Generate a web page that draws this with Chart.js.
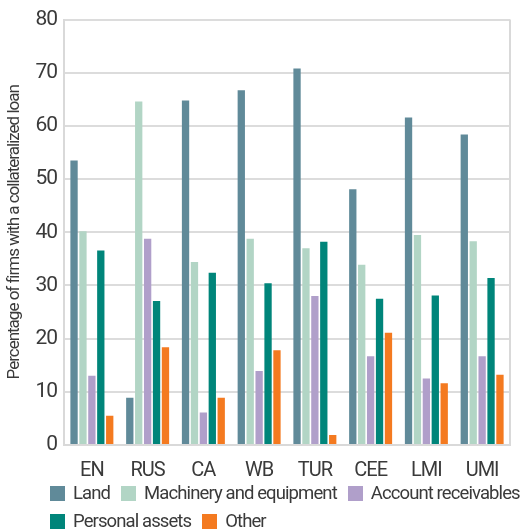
<!DOCTYPE html>
<html>
<head>
<meta charset="utf-8">
<script src="https://cdn.jsdelivr.net/npm/chart.js@4"></script>
<style>
  body { margin: 0; background: #fff; font-family: Roboto, sans-serif; overflow: hidden; }
  #wrap { position: relative; width: 521px; height: 489px; }
  #legend { position: absolute; left: 50px; top: 479px; width: 500px; display: flex; flex-wrap: wrap; color: #3a3a3a; font-size: 18.5px; line-height: 28px; letter-spacing: -0.9px; }
  #legend .item { display: flex; align-items: center; margin-right: 11px; white-space: nowrap; }
  #legend .box { width: 15px; height: 15px; margin-right: 8px; }
</style>
</head>
<body>
<div id="wrap"><canvas id="barChartCollateral"></canvas></div>
<div id="legend"></div>
<script>
const regions = ["EN", "RUS", "CA", "WB", "TUR", "CEE", "LMI", "UMI"];
const seriesNames = ["Land", "Machinery and equipment", "Account receivables", "Personal assets", "Other"];
const seriesColors = ["#608a99", "#b2d5c5", "#b09fca", "#00857a", "#f47a20"];
const landValues = [53.5, 8.9, 64.8, 66.7, 70.8, 48.1, 61.6, 58.4];
const machineryValues = [40.2, 64.6, 34.4, 38.8, 37.0, 33.9, 39.5, 38.3];
const receivablesValues = [13.0, 38.8, 6.1, 13.9, 28.0, 16.7, 12.5, 16.7];
const personalValues = [36.6, 27.1, 32.4, 30.4, 38.2, 27.5, 28.1, 31.4];
const otherValues = [5.5, 18.4, 8.9, 17.8, 1.9, 21.1, 11.6, 13.2];
const yTicks = [0, 10, 20, 30, 40, 50, 60, 70, 80];

const allValues = [landValues, machineryValues, receivablesValues, personalValues, otherValues];
const fontFamily = 'Roboto, sans-serif';

// no condensed font here, so tighten the letters a bit
const tightText = {
    id: 'tightText',
    beforeLayout(chart) { chart.ctx.letterSpacing = '-1px'; },
    beforeDraw(chart) { chart.ctx.letterSpacing = '-1px'; }
};

// right-hand frame line of the plot
const rightBorder = {
    id: 'rightBorder',
    afterDraw(chart) {
        const a = chart.chartArea, ctx = chart.ctx;
        ctx.save();
        ctx.strokeStyle = '#d9d9d9';
        ctx.lineWidth = 2;
        ctx.beginPath();
        ctx.moveTo(a.right, a.top);
        ctx.lineTo(a.right, a.bottom);
        ctx.stroke();
        ctx.restore();
    }
};

const ctx = document.getElementById('barChartCollateral').getContext('2d');
new Chart(ctx, {
    type: 'bar',
    data: {
        labels: regions,
        datasets: seriesNames.map((name, i) => ({
            label: name,
            data: allValues[i],
            backgroundColor: seriesColors[i],
            borderWidth: 0,
            categoryPercentage: 0.8,
            barPercentage: 0.82
        }))
    },
    options: {
        responsive: true,
        maintainAspectRatio: false,
        animation: false,
        layout: { padding: { top: 10, right: 11, left: 5, bottom: 0 } },
        plugins: {
            legend: { display: false },
            tooltip: { enabled: false }
        },
        scales: {
            x: {
                grid: { display: false },
                border: { color: '#d9d9d9', width: 2 },
                ticks: { color: '#3a3a3a', font: { family: fontFamily, size: 20 }, padding: 6 }
            },
            y: {
                min: 0,
                max: 80,
                afterBuildTicks(scale) { scale.ticks = yTicks.map(v => ({ value: v })); },
                grid: { color: '#dcdcdc', lineWidth: 2, drawTicks: false },
                border: { color: '#d9d9d9', width: 2 },
                ticks: { color: '#3a3a3a', font: { family: fontFamily, size: 21 }, padding: 7 },
                title: {
                    display: true,
                    text: 'Percentage of firms with a collateralized loan',
                    color: '#3a3a3a',
                    font: { family: fontFamily, size: 17 },
                    padding: { top: 0, bottom: 3 }
                }
            }
        }
    },
    plugins: [tightText, rightBorder]
});

// legend below the chart
const legend = document.getElementById('legend');
seriesNames.forEach((name, i) => {
    const item = document.createElement('div');
    item.className = 'item';
    item.innerHTML = '<span class="box" style="background:' + seriesColors[i] + '"></span>' + name;
    legend.appendChild(item);
});
</script>
</body>
</html>
